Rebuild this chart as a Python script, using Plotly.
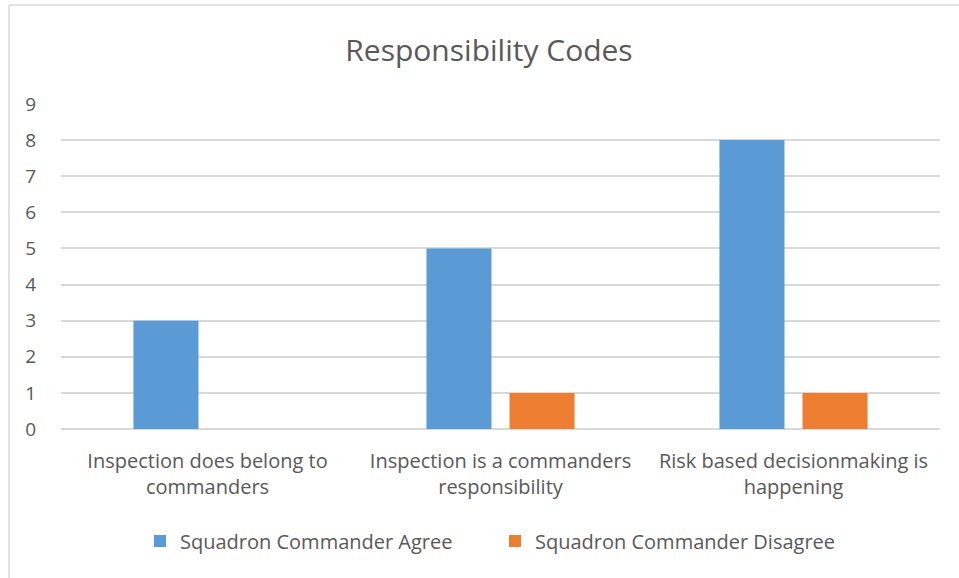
import plotly.graph_objects as go

categories = [
    "Inspection does belong to<br>commanders",
    "Inspection is a commanders<br>responsibility",
    "Risk based decisionmaking is<br>happening",
]
agree = [3, 5, 8]
disagree = [0, 1, 1]
series_names = ["Squadron Commander Agree", "Squadron Commander Disagree"]
y_ticks = list(range(0, 10))

W, H = 959, 578
L, R, T, B = 61, 19, 104, 149
pw, ph = W - L - R, H - T - B

def px_x(p):
    return (p - L) / pw

def px_y(p):
    return (H - B - p) / ph

font_family = "Open Sans, Noto Sans, sans-serif"
text_color = "#595959"

fig = go.Figure()
fig.add_trace(go.Bar(x=categories, y=agree, name=series_names[0],
                     marker=dict(color="#5B9BD5", line=dict(width=0))))
fig.add_trace(go.Bar(x=categories, y=disagree, name=series_names[1],
                     marker=dict(color="#ED7D31", line=dict(width=0))))

fig.update_layout(
    width=W, height=H,
    margin=dict(l=L, r=R, t=T, b=B, autoexpand=False),
    paper_bgcolor="white", plot_bgcolor="white",
    barmode="group", bargap=0.433, bargroupgap=0.217,
    font=dict(family=font_family, color=text_color, size=20),
    title=dict(text="Responsibility Codes", x=489 / W, xanchor="center",
               y=1 - 50 / H, yanchor="middle",
               font=dict(size=30, color=text_color, family=font_family)),
    showlegend=True,
    legend=dict(orientation="h", x=0.5 * (153 + 834) / W - 20 / W, xref="paper",
                xanchor="center", y=px_y(541), yanchor="middle",
                font=dict(size=20, color=text_color), itemwidth=30,
                entrywidth=310, traceorder="normal"),
    xaxis=dict(showline=False, ticks="", tickfont=dict(size=20, color=text_color),
               showgrid=False, ticklabelstandoff=18),
    yaxis=dict(range=[0, 9], tickvals=y_ticks, showgrid=True, gridcolor="#D9D9D9",
               gridwidth=1.5, zeroline=True, zerolinecolor="#D9D9D9", zerolinewidth=1.5,
               showline=False, ticks="", ticklabelstandoff=24,
               tickfont=dict(size=19, color=text_color)),
    shapes=[
        dict(type="line", xref="paper", yref="paper", x0=px_x(9), x1=px_x(W + 5),
             y0=px_y(5), y1=px_y(5), line=dict(color="#D9D9D9", width=1.5)),
        dict(type="line", xref="paper", yref="paper", x0=px_x(9), x1=px_x(9),
             y0=px_y(5), y1=px_y(H + 5), line=dict(color="#D9D9D9", width=1.5)),
    ],
)

fig.write_html("out.html")
